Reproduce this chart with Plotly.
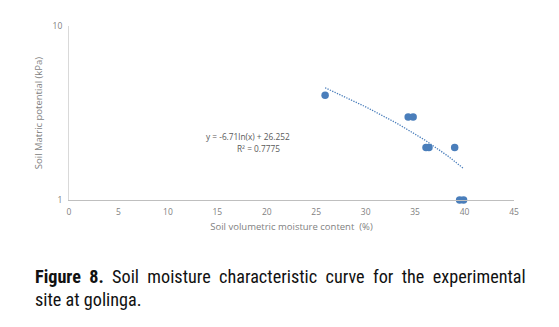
import numpy as np
import plotly.graph_objects as go

# Data
moisture = [25.9, 34.3, 34.8, 36.1, 36.4, 39.0, 39.5, 39.9]   # Soil volumetric moisture content (%)
potential = [4.0, 3.0, 3.0, 2.0, 2.0, 2.0, 1.0, 1.0]         # Soil matric potential (kPa)

# Displayed log trendline: y = a*ln(x) + b
trend_a = -6.71
trend_b = 26.252
r_squared = 0.7775

x_ticks = [0, 5, 10, 15, 20, 25, 30, 35, 40, 45]
y_ticks = [1, 10]

tx = np.linspace(min(moisture), max(moisture), 60)
ty = trend_a * np.log(tx) + trend_b

blue = "#4a7ebb"
gray_txt = "#7f7f7f"
axis_font = dict(family="Open Sans, Liberation Sans, sans-serif", size=8.5, color=gray_txt)
title_font = dict(family="Open Sans, Liberation Sans, sans-serif", size=9.5, color=gray_txt)

fig = go.Figure()
fig.add_trace(go.Scatter(x=tx, y=ty, mode="lines",
                         line=dict(color=blue, width=1.3, dash="1.3px,1.3px"),
                         hoverinfo="skip", showlegend=False))
fig.add_trace(go.Scatter(x=moisture, y=potential, mode="markers",
                         marker=dict(color=blue, size=7.5), cliponaxis=False,
                         showlegend=False))

fig.update_layout(
    width=559, height=327,
    margin=dict(l=69, r=45, t=26, b=127),
    paper_bgcolor="white", plot_bgcolor="white",
    xaxis=dict(range=[0, 45], tickvals=x_ticks, ticktext=[str(v) for v in x_ticks],
               showgrid=False, zeroline=False, showline=True, linecolor="#bfbfbf",
               linewidth=1, ticks="", tickfont=axis_font, ticklabelstandoff=4,
               title=dict(text="Soil volumetric moisture content  (%)", font=title_font, standoff=7)),
    yaxis=dict(type="log", range=[0, 1], tickvals=y_ticks, ticktext=[str(v) for v in y_ticks],
               showgrid=False, zeroline=False, showline=True, linecolor="#d9d9d9",
               linewidth=1, ticks="", tickfont=axis_font, ticklabelstandoff=4,
               title=dict(text="Soil Matric potential (kPa)", font=title_font, standoff=8)),
)

eq_font = dict(family="Open Sans, Liberation Sans, sans-serif", size=8.3, color="#595959")
fig.add_annotation(xref="paper", yref="paper", x=0.402, y=0.322,
                   text=f"y = {trend_a}ln(x) + {trend_b}", showarrow=False, font=eq_font)
fig.add_annotation(xref="paper", yref="paper", x=0.425, y=0.253,
                   text=f"R² = {r_squared}", showarrow=False, font=eq_font)

gap = " &nbsp;"
line1_words = ["Soil", "moisture", "characteristic", "curve", "for", "the", "experimental"]
cap_font = dict(family="Roboto Condensed, sans-serif", size=18.2, color="#111111")
fig.add_annotation(xref="paper", yref="paper", x=-0.081, y=-0.44, xanchor="left", yanchor="middle",
                   text="<b>Figure" + gap + "8.</b>" + gap + gap.join(line1_words),
                   showarrow=False, font=cap_font)
fig.add_annotation(xref="paper", yref="paper", x=-0.081, y=-0.57, xanchor="left", yanchor="middle",
                   text="site at golinga.", showarrow=False, font=cap_font)

fig.write_html("out.html")
